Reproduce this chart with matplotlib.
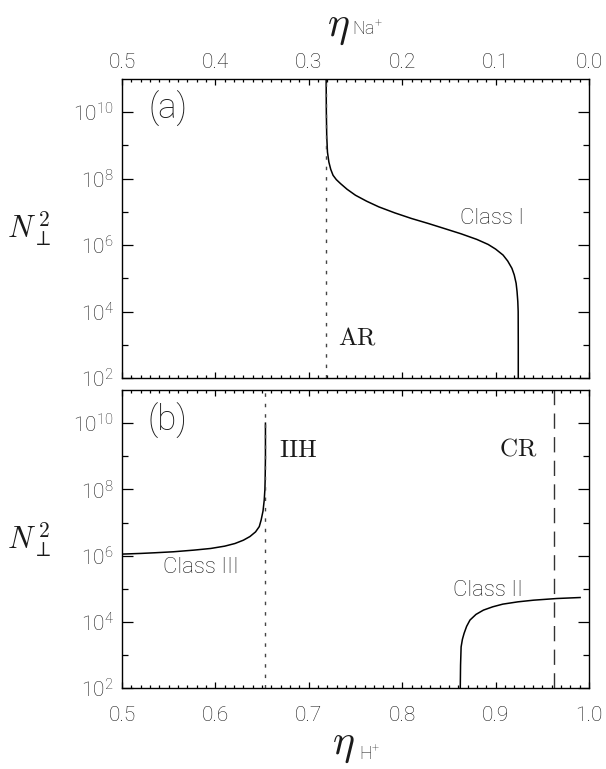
import numpy as np
import matplotlib
matplotlib.use('Agg')
import matplotlib.pyplot as plt
from matplotlib.ticker import FixedLocator, FuncFormatter, MultipleLocator, NullFormatter

plt.rcParams['font.family'] = ['Roboto', 'DejaVu Sans']
plt.rcParams['font.weight'] = 'light'
plt.rcParams['mathtext.fontset'] = 'cm'

# Class I (top panel), x = eta_Na+, y = log10(N_perp^2)
class1_eta_na = [0.2814, 0.2812, 0.2808, 0.2800, 0.2785, 0.2765, 0.2740, 0.2705,
                 0.2660, 0.2590, 0.2500, 0.2380, 0.2250, 0.2080, 0.1900, 0.1720,
                 0.1550, 0.1370, 0.1200, 0.1080, 0.1000, 0.0920, 0.0870, 0.0825,
                 0.0800, 0.0780, 0.0770, 0.0762, 0.0758, 0.0757, 0.0757]
class1_logn2 = [11.0, 10.0, 9.3, 8.8, 8.5, 8.28, 8.1, 7.97,
                7.85, 7.68, 7.5, 7.32, 7.15, 6.97, 6.8, 6.65,
                6.5, 6.34, 6.17, 6.02, 5.88, 5.7, 5.52, 5.3,
                5.1, 4.85, 4.6, 4.3, 4.0, 3.0, 2.0]

# Class III (bottom panel), x = eta_H+
class3_eta_h = [0.500, 0.520, 0.535, 0.555, 0.577, 0.595, 0.610, 0.621, 0.630,
                0.637, 0.643, 0.647, 0.649, 0.651, 0.6523, 0.6530, 0.6533,
                0.6536, 0.6536]
class3_logn2 = [6.05, 6.07, 6.09, 6.12, 6.17, 6.22, 6.29, 6.37, 6.47,
                6.58, 6.72, 6.88, 7.08, 7.35, 7.68, 8.0, 8.3,
                9.0, 10.0]

# Class II (bottom panel)
class2_eta_h = [0.8622, 0.8625, 0.8631, 0.8645, 0.8663, 0.8690, 0.8726, 0.8790,
                0.887, 0.897, 0.9077, 0.924, 0.9408, 0.9656, 0.9905]
class2_logn2 = [2.0, 2.7, 3.25, 3.48, 3.66, 3.87, 4.06, 4.23,
                4.36, 4.46, 4.54, 4.61, 4.66, 4.71, 4.74]

# resonances
ar_eta_na = 0.2814
iih_eta_h = 0.6536
cr_eta_h = 0.9623

y_major_exp = [2, 4, 6, 8, 10]
y_minor_exp = [3, 5, 7, 9]
y_lim_exp = (2, 11)

TXT = '#1a1a1a'


def style_axis(ax):
    ax.set_yscale('log')
    ax.set_ylim(10.0 ** y_lim_exp[0], 10.0 ** y_lim_exp[1])
    ax.yaxis.set_major_locator(FixedLocator([10.0 ** e for e in y_major_exp]))
    ax.yaxis.set_minor_locator(FixedLocator([10.0 ** e for e in y_minor_exp]))
    ax.yaxis.set_major_formatter(FuncFormatter(
        lambda v, p: r'$\mathdefault{10^{%d}}$' % int(round(np.log10(v)))))
    ax.yaxis.set_minor_formatter(NullFormatter())
    ax.xaxis.set_major_locator(MultipleLocator(0.1))
    ax.xaxis.set_minor_locator(MultipleLocator(0.01))
    ax.tick_params(which='both', direction='in', top=True, right=True,
                   colors='black', labelcolor=TXT, labelsize=15, width=0.9)
    ax.tick_params(axis='y', which='major', length=8, pad=6)
    ax.tick_params(axis='y', which='minor', length=4)
    ax.tick_params(axis='x', which='major', length=4)
    ax.tick_params(axis='x', which='minor', length=2)
    for s in ax.spines.values():
        s.set_linewidth(1.0)


fig = plt.figure(figsize=(6.06, 7.69), dpi=100)
ax1 = fig.add_axes([0.2013, 0.5085, 0.7706, 0.3888])
ax2 = fig.add_axes([0.2013, 0.1049, 0.7706, 0.3879])

# ---- (a)
style_axis(ax1)
ax1.set_xlim(0.5, 0.0)
ax1.tick_params(axis='x', labeltop=True, labelbottom=False, pad=5)
ax1.plot(class1_eta_na, 10.0 ** np.array(class1_logn2), color='black', lw=1.1)
ax1.plot([ar_eta_na, ar_eta_na], [10.0 ** y_lim_exp[0], 10.0 ** y_lim_exp[1]],
         color='#444444', lw=1.0, dashes=(2.5, 5))
ax1.text(0.2481, 10 ** 3.23, r'$\mathrm{AR}$', fontsize=18, ha='center', va='center', color=TXT)
ax1.text(0.1035, 10 ** 6.81, 'Class I', fontsize=16, ha='center', va='center', color=TXT)
ax1.text(0.098, 0.9, '(a)', transform=ax1.transAxes, fontsize=25, ha='center', va='center', color=TXT)

# ---- (b)
style_axis(ax2)
ax2.set_xlim(0.5, 1.0)
ax2.tick_params(axis='x', which='major', pad=13)
ax2.plot(class3_eta_h, 10.0 ** np.array(class3_logn2), color='black', lw=1.1)
ax2.plot(class2_eta_h, 10.0 ** np.array(class2_logn2), color='black', lw=1.1)
ax2.plot([iih_eta_h, iih_eta_h], [10.0 ** y_lim_exp[0], 10.0 ** y_lim_exp[1]],
         color='#444444', lw=1.0, dashes=(2.5, 5))
ax2.plot([cr_eta_h, cr_eta_h], [10.0 ** y_lim_exp[0], 10.0 ** y_lim_exp[1]],
         color='#333333', lw=1.0, dashes=(11, 6))
ax2.text(0.6882, 10 ** 9.2, r'$\mathrm{IIH}$', fontsize=18, ha='center', va='center', color=TXT)
ax2.text(0.9246, 10 ** 9.24, r'$\mathrm{CR}$', fontsize=18, ha='center', va='center', color=TXT)
ax2.text(0.5849, 10 ** 5.64, 'Class III', fontsize=16, ha='center', va='center', color=TXT)
ax2.text(0.8922, 10 ** 4.95, 'Class II', fontsize=16, ha='center', va='center', color=TXT)
ax2.text(0.098, 0.896, '(b)', transform=ax2.transAxes, fontsize=25, ha='center', va='center', color=TXT)

# y labels
for ax in (ax1, ax2):
    ax.text(-0.2, 0.5, r'$N_{\perp}^{\,2}$', transform=ax.transAxes,
            fontsize=22, ha='center', va='center', color=TXT)

# x labels: big eta with small subscript
fig.text(0.5578, 0.992, r'$\eta$', fontsize=30, ha='center', va='top', color=TXT)
fig.text(0.5805, 0.9545, r'$\mathdefault{Na^{+}}$', fontsize=13, ha='left',
         va='baseline', color=TXT)
fig.text(0.5667, 0.005, r'$\eta$', fontsize=30, ha='center', va='bottom', color=TXT)
fig.text(0.5924, 0.0117, r'$\mathdefault{H^{+}}$', fontsize=13, ha='left',
         va='baseline', color=TXT)

fig.savefig('out.png', dpi=100)
